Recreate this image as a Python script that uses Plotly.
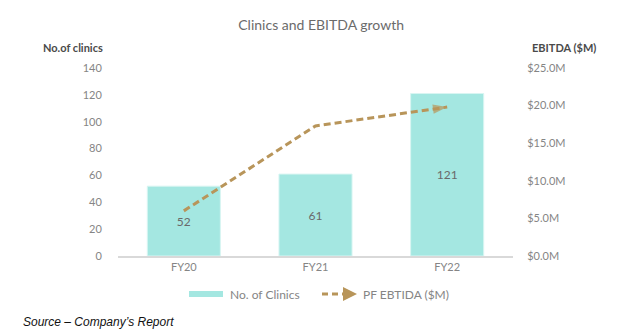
import plotly.graph_objects as go

categories = ["FY20", "FY21", "FY22"]
clinics = [52, 61, 121]
ebitda = [6.0, 17.3, 19.8]
left_ticks = [0, 20, 40, 60, 80, 100, 120, 140]
right_ticks = [0, 5, 10, 15, 20, 25]
right_labels = ["$0.0M", "$5.0M", "$10.0M", "$15.0M", "$20.0M", "$25.0M"]

BAR = "#a4e7e1"
LINE = "#b8955a"
GRAY = "#858585"
FONT = "Lato"

fig = go.Figure()
fig.add_trace(go.Bar(
    x=categories, y=clinics, name="No. of Clinics",
    marker=dict(color=BAR, line=dict(color="#d8f5f2", width=1)),
    text=[str(v) for v in clinics], textposition="inside",
    insidetextanchor="middle",
    textfont=dict(color="#6a6a6a", size=12, family=FONT),
    showlegend=False, yaxis="y",
))
fig.add_trace(go.Scatter(
    x=categories, y=ebitda, name="PF EBTIDA ($M)", mode="lines+markers",
    line=dict(color=LINE, width=3, dash="7px,4px"),
    marker=dict(symbol="arrow", size=[0, 0, 15], angleref="previous",
                color=LINE, line=dict(width=0)),
    showlegend=False, yaxis="y2",
))

fig.update_layout(
    width=620, height=334,
    margin=dict(l=118, r=107, t=68, b=78),
    paper_bgcolor="white", plot_bgcolor="white",
    font=dict(family=FONT, color=GRAY, size=11),
    bargap=0.445,
    title=dict(text="Clinics and EBITDA growth", x=0.518, xanchor="center",
               y=0.925, yanchor="middle",
               font=dict(size=14, color="#6b6b6b", family=FONT)),
    xaxis=dict(range=[-0.5, 2.5], showline=True, linecolor="#d9d9d9",
               linewidth=1.5, showgrid=False, ticks="",
               tickfont=dict(size=11, color=GRAY)),
    yaxis=dict(range=[0, 140], tickvals=left_ticks, showgrid=False,
               zeroline=False, showline=False, ticks="outside",
               ticklen=13, tickcolor="rgba(0,0,0,0)",
               tickfont=dict(size=11, color=GRAY)),
    yaxis2=dict(range=[0, 25], tickvals=right_ticks, ticktext=right_labels,
                overlaying="y", side="right", showgrid=False, zeroline=False,
                showline=False, ticks="outside", ticklen=11,
                tickcolor="rgba(0,0,0,0)",
                tickfont=dict(size=11, color=GRAY)),
    showlegend=False,
)

def px(xp):
    return (xp - 118) / 395

def py(yp):
    return (256 - yp) / 188

# axis titles
fig.add_annotation(text="<b>No.of clinics</b>", xref="paper", yref="paper",
                   x=px(41), y=py(48), xanchor="left",
                   yanchor="middle", showarrow=False,
                   font=dict(size=11, color="#4a4a4a", family=FONT))
fig.add_annotation(text="<b>EBITDA ($M)</b>", xref="paper", yref="paper",
                   x=px(530), y=py(48), xanchor="left",
                   yanchor="middle", showarrow=False,
                   font=dict(size=11, color="#4a4a4a", family=FONT))

# legend
fig.add_shape(type="rect", xref="paper", yref="paper",
              x0=px(189), x1=px(223), y0=py(297), y1=py(291),
              fillcolor=BAR, line=dict(width=0))
fig.add_annotation(text="No. of Clinics", xref="paper", yref="paper",
                   x=px(228), y=py(294), xanchor="left", yanchor="middle",
                   showarrow=False, font=dict(size=12, color=GRAY, family=FONT))
fig.add_shape(type="line", xref="paper", yref="paper",
              x0=px(322), x1=px(344), y0=py(294), y1=py(294),
              line=dict(color=LINE, width=3, dash="6px,4px"))
fig.add_shape(type="path", xref="paper", yref="paper",
              path=f"M {px(343)},{py(287)} L {px(357)},{py(294)} L {px(343)},{py(301)} Z",
              fillcolor=LINE, line=dict(width=0))
fig.add_annotation(text="PF EBTIDA ($M)", xref="paper", yref="paper",
                   x=px(361), y=py(294), xanchor="left", yanchor="middle",
                   showarrow=False, font=dict(size=12, color=GRAY, family=FONT))

# source note
fig.add_annotation(text="<i>Source – Company’s Report</i>", xref="paper", yref="paper",
                   x=px(21), y=py(322), xanchor="left", yanchor="middle",
                   showarrow=False,
                   font=dict(size=12, color="#111111", family="Liberation Sans Narrow, Liberation Sans"))

fig.write_html("out.html")
